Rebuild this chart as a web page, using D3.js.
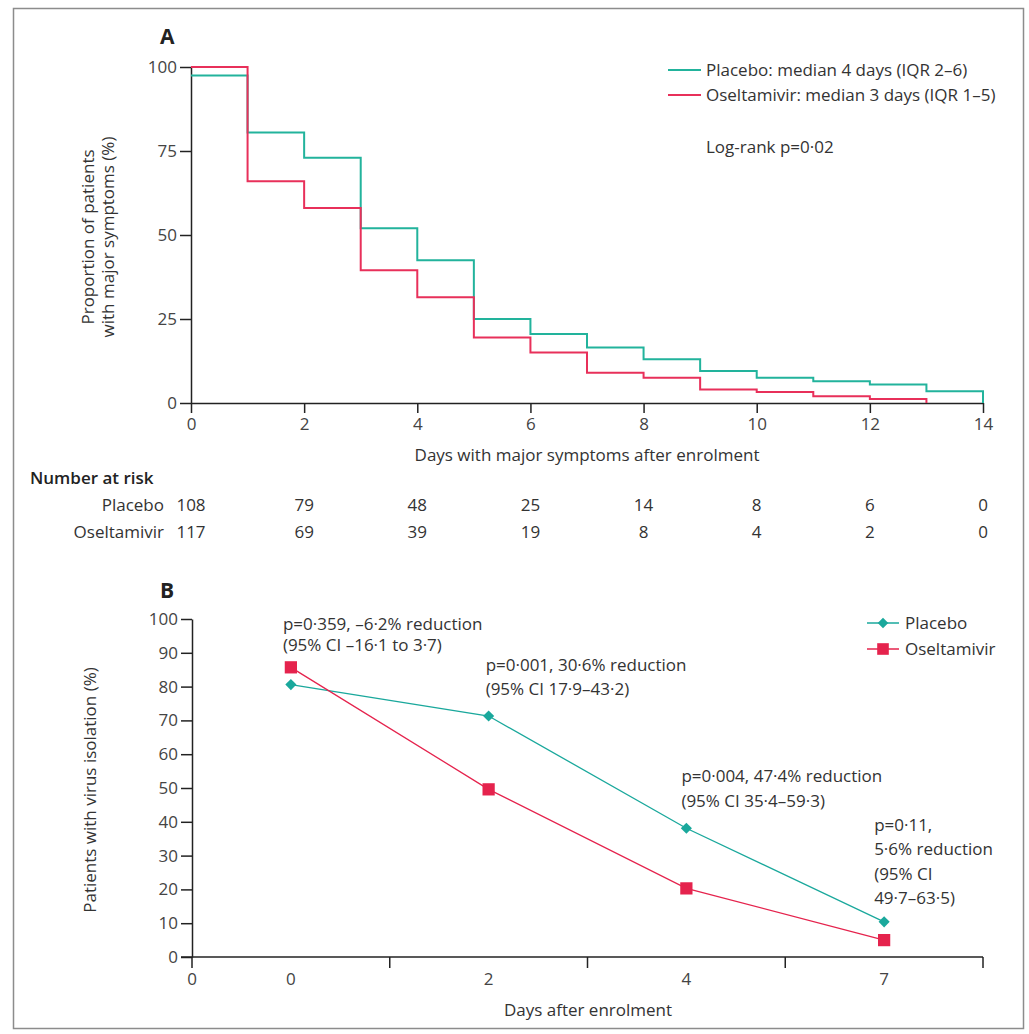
<html lang="en">
<head>
<meta charset="utf-8">
<title>Oseltamivir trial</title>
<script src="https://cdn.jsdelivr.net/npm/d3@7"></script>
<style>
  body { margin: 0; background: #fff; }
  svg text { font-family: "Open Sans", "Noto Sans", sans-serif; fill: #333; font-size: 17px; }
  .axis path, .axis line { stroke: #222; stroke-width: 1.5px; }
  .axis text { font-size: 17px; fill: #444; }
</style>
</head>
<body>
<svg width="1029" height="1034"></svg>
<script>
// ---- Panel A: Kaplan-Meier style step curves
var kmDays = [0, 1, 2, 3, 4, 5, 6, 7, 8, 9, 10, 11, 12, 13, 14];
var kmPlacebo = [97.5, 80.5, 73, 52, 42.5, 25, 20.5, 16.5, 13, 9.5, 7.5, 6.5, 5.5, 3.5, 0];
var kmOseltamivir = [100, 66, 58, 39.5, 31.5, 19.5, 15, 9, 7.5, 4, 3.3, 2, 1.2, 0];
var kmTicksY = [0, 25, 50, 75, 100];
var kmTicksX = [0, 2, 4, 6, 8, 10, 12, 14];

// number at risk
var riskDays = [0, 2, 4, 6, 8, 10, 12, 14];
var riskPlacebo = [108, 79, 48, 25, 14, 8, 6, 0];
var riskOseltamivir = [117, 69, 39, 19, 8, 4, 2, 0];

// ---- Panel B: virus isolation
var visitDays = ["0", "2", "4", "7"];
var virusPlacebo = [80.6, 71.3, 38.1, 10.4];
var virusOseltamivir = [85.7, 49.6, 20.3, 5.0];
var virusTicksY = [0, 10, 20, 30, 40, 50, 60, 70, 80, 90, 100];
var annotations = [
  ["p=0·359, –6·2% reduction", "(95% CI –16·1 to 3·7)"],
  ["p=0·001, 30·6% reduction", "(95% CI 17·9–43·2)"],
  ["p=0·004, 47·4% reduction", "(95% CI 35·4–59·3)"],
  ["p=0·11,", "5·6% reduction", "(95% CI", "49·7–63·5)"]
];

var teal = "#1aa89c", red = "#e5234d";

var svg = d3.select("svg");
svg.append("rect").attr("width", 1029).attr("height", 1034).attr("fill", "#fff");
svg.append("rect")
  .attr("x", 13.5).attr("y", 8.5).attr("width", 1010).attr("height", 1020)
  .attr("fill", "none").attr("stroke", "#8c8c8c").attr("stroke-width", 1.5);

// ================= Panel A =================
var xA = d3.scaleLinear().domain([0, 14]).range([191, 983]);
var yA = d3.scaleLinear().domain([0, 100]).range([403, 67]);

svg.append("text").attr("x", 160).attr("y", 44)
  .style("font-size", "21px").style("font-weight", "bold").style("fill", "#222").text("A");

svg.append("g").attr("class", "axis")
  .attr("transform", "translate(" + xA(0) + ",0)")
  .call(d3.axisLeft(yA).tickValues(kmTicksY).tickSize(11).tickSizeOuter(0).tickPadding(3));

svg.append("g").attr("class", "axis")
  .attr("transform", "translate(0," + yA(0) + ")")
  .call(d3.axisBottom(xA).tickValues(kmTicksX).tickSize(10).tickSizeOuter(0).tickPadding(5));

var step = d3.line()
  .curve(d3.curveStepAfter)
  .x(function(d) { return xA(d[0]); })
  .y(function(d) { return yA(d[1]); });

svg.append("path")
  .datum(d3.zip(kmDays, kmPlacebo))
  .attr("d", step).attr("fill", "none").attr("stroke", "#22b39c").attr("stroke-width", 2);
svg.append("path")
  .datum(d3.zip(kmDays.slice(0, kmOseltamivir.length), kmOseltamivir))
  .attr("d", step).attr("fill", "none").attr("stroke", "#e8305a").attr("stroke-width", 2);

svg.append("text")
  .attr("x", (xA(0) + xA(14)) / 2).attr("y", 455).attr("dy", "0.35em")
  .attr("text-anchor", "middle")
  .text("Days with major symptoms after enrolment");

var ytA = svg.append("text").attr("text-anchor", "middle")
  .attr("transform", "translate(94,237) rotate(-90)");
ytA.append("tspan").attr("x", 0).attr("dy", 0).text("Proportion of patients");
ytA.append("tspan").attr("x", 0).attr("dy", 20).text("with major symptoms (%)");

// legend A
var legA = [
  { label: "Placebo: median 4 days (IQR 2–6)", color: "#22b39c", y: 70 },
  { label: "Oseltamivir: median 3 days (IQR 1–5)", color: "#e8305a", y: 95 }
];
legA.forEach(function(l) {
  svg.append("line").attr("x1", 668).attr("x2", 701).attr("y1", l.y).attr("y2", l.y)
    .attr("stroke", l.color).attr("stroke-width", 2);
  svg.append("text").attr("x", 706).attr("y", l.y).attr("dy", "0.35em").text(l.label);
});
svg.append("text").attr("x", 706).attr("y", 147).attr("dy", "0.35em").text("Log-rank p=0·02");

// number at risk
svg.append("text").attr("x", 30).attr("y", 478).attr("dy", "0.35em")
  .style("font-weight", "600").style("fill", "#222").text("Number at risk");
[["Placebo", riskPlacebo, 505], ["Oseltamivir", riskOseltamivir, 532]].forEach(function(r) {
  svg.append("text").attr("x", 164).attr("y", r[2]).attr("dy", "0.35em")
    .attr("text-anchor", "end").text(r[0]);
  svg.selectAll(null).data(r[1]).enter().append("text")
    .attr("x", function(d, i) { return xA(riskDays[i]); })
    .attr("y", r[2]).attr("dy", "0.35em")
    .attr("text-anchor", "middle")
    .text(function(d) { return d; });
});

// ================= Panel B =================
var xB = d3.scaleBand().domain(visitDays).range([192, 983]).padding(0);
var yB = d3.scaleLinear().domain([0, 100]).range([957, 619]);
var bw = xB.bandwidth();
function cx(d) { return xB(d) + bw / 2; }

svg.append("text").attr("x", 160).attr("y", 598)
  .style("font-size", "21px").style("font-weight", "bold").style("fill", "#222").text("B");

svg.append("g").attr("class", "axis")
  .attr("transform", "translate(" + xB.range()[0] + ",0)")
  .call(d3.axisLeft(yB).tickValues(virusTicksY).tickSize(11).tickSizeOuter(0).tickPadding(3));

// x axis: tick marks at band edges, labels at band centres
var gx = svg.append("g").attr("class", "axis");
gx.append("line").attr("x1", xB.range()[0] - 11).attr("x2", xB.range()[1])
  .attr("y1", yB(0)).attr("y2", yB(0));
var edges = visitDays.map(function(d) { return xB(d); }).concat([xB.range()[1]]);
gx.selectAll(".tk").data(edges).enter().append("line")
  .attr("x1", function(d) { return d; }).attr("x2", function(d) { return d; })
  .attr("y1", yB(0)).attr("y2", yB(0) + 11);
gx.selectAll(".lb").data(visitDays).enter().append("text")
  .attr("x", cx).attr("y", yB(0) + 22).attr("dy", "0.35em")
  .attr("text-anchor", "middle").text(function(d) { return d; });
gx.append("text").attr("x", xB.range()[0]).attr("y", yB(0) + 22).attr("dy", "0.35em")
  .attr("text-anchor", "middle").text("0");

var lineB = d3.line()
  .x(function(d) { return cx(d[0]); })
  .y(function(d) { return yB(d[1]); });

var seriesB = [
  { data: d3.zip(visitDays, virusPlacebo), color: teal, rot: 45, size: 62 },
  { data: d3.zip(visitDays, virusOseltamivir), color: red, rot: 0, size: 150 }
];
seriesB.forEach(function(s) {
  svg.append("path").datum(s.data).attr("d", lineB)
    .attr("fill", "none").attr("stroke", s.color).attr("stroke-width", 1.3);
});
seriesB.forEach(function(s) {
  svg.selectAll(null).data(s.data).enter().append("path")
    .attr("transform", function(d) {
      return "translate(" + cx(d[0]) + "," + yB(d[1]) + ") rotate(" + s.rot + ")";
    })
    .attr("d", d3.symbol().type(d3.symbolSquare).size(s.size))
    .attr("fill", s.color);
});

// annotations, placed next to each visit
var annotLayout = [
  { dx: -8, y: 624, lh: 21 },
  { dx: -3, y: 665, lh: 24 },
  { dx: -5, y: 776, lh: 25 },
  { dx: -10, y: 825, lh: 24.5 }
];
annotations.forEach(function(lines, i) {
  var t = svg.append("text");
  lines.forEach(function(s, j) {
    t.append("tspan").attr("x", cx(visitDays[i]) + annotLayout[i].dx)
      .attr("y", annotLayout[i].y + j * annotLayout[i].lh).attr("dy", "0.35em").text(s);
  });
});

// legend B
[["Placebo", seriesB[0], 623], ["Oseltamivir", seriesB[1], 649]].forEach(function(l) {
  svg.append("line").attr("x1", 867).attr("x2", 899).attr("y1", l[2]).attr("y2", l[2])
    .attr("stroke", l[1].color).attr("stroke-width", 1.5);
  svg.append("path").attr("transform", "translate(883," + l[2] + ") rotate(" + l[1].rot + ")")
    .attr("d", d3.symbol().type(d3.symbolSquare).size(l[1].size * 0.9)).attr("fill", l[1].color);
  svg.append("text").attr("x", 905).attr("y", l[2]).attr("dy", "0.35em").text(l[0]);
});

svg.append("text").attr("x", 588).attr("y", 1010).attr("dy", "0.35em")
  .attr("text-anchor", "middle").text("Days after enrolment");
svg.append("text").attr("text-anchor", "middle")
  .attr("transform", "translate(90,790) rotate(-90)").attr("dy", "0.35em")
  .text("Patients with virus isolation (%)");
</script>
</body>
</html>
